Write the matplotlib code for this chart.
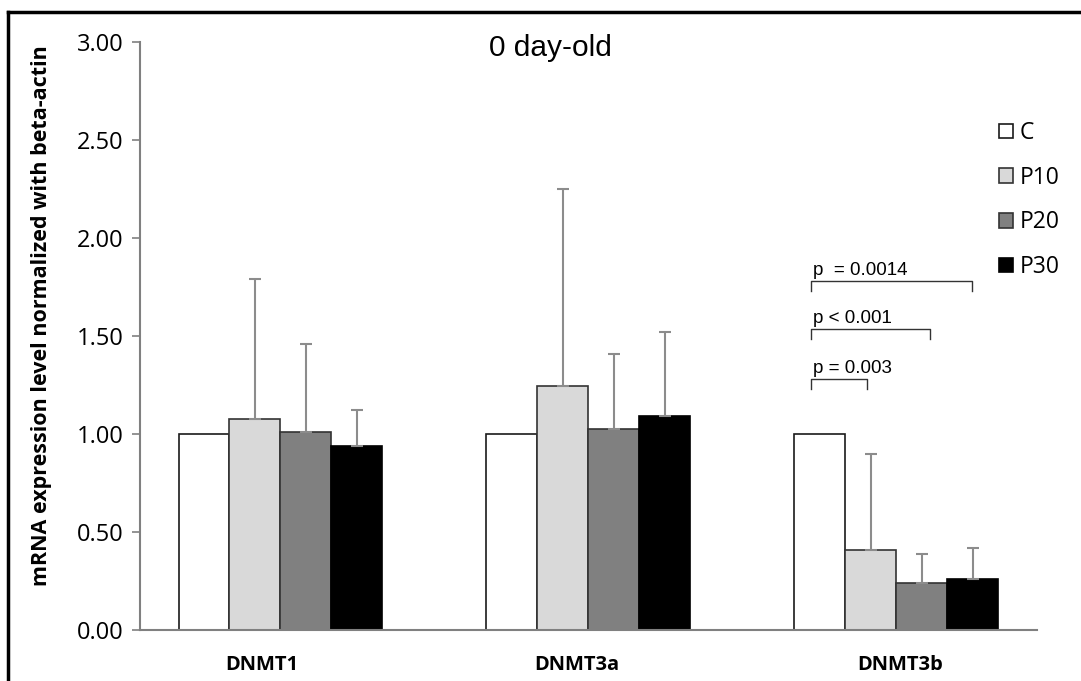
import numpy as np
import matplotlib.pyplot as plt
from matplotlib.lines import Line2D

genes = ['DNMT1', 'DNMT3a', 'DNMT3b']
groups = ['C', 'P10', 'P20', 'P30']

# mean relative expression per group (rows = group, cols = gene)
C_mean = [1.00, 1.00, 1.00]
P10_mean = [1.075, 1.245, 0.406]
P20_mean = [1.012, 1.025, 0.240]
P30_mean = [0.940, 1.093, 0.260]

# upper error (SD)
C_sd = [0.0, 0.0, 0.0]
P10_sd = [0.715, 1.005, 0.494]
P20_sd = [0.448, 0.385, 0.150]
P30_sd = [0.180, 0.427, 0.160]

fills = ['#ffffff', '#d9d9d9', '#808080', '#000000']
edges = ['#1a1a1a', '#333333', '#333333', '#000000']

# significance brackets for DNMT3b: (x start, x end, y, label)
brackets = [
    (1.724, 2.247, 1.782, 'p  = 0.0014'),
    (1.724, 2.110, 1.536, 'p < 0.001'),
    (1.724, 1.906, 1.281, 'p = 0.003'),
]

fig = plt.figure(figsize=(10.81, 6.81), dpi=100)
ax = fig.add_axes([140 / 1081, 1 - 630 / 681, 897 / 1081, 588 / 681])

x = np.arange(len(genes))
w = 0.1657
means = [C_mean, P10_mean, P20_mean, P30_mean]
sds = [C_sd, P10_sd, P20_sd, P30_sd]
handles = []
for i, g in enumerate(groups):
    pos = x + (i - 1.5) * w
    b = ax.bar(pos, means[i], width=w, color=fills[i], edgecolor=edges[i],
               linewidth=1.2, label=g, zorder=2)
    handles.append(b)
    if i > 0:
        sd = np.array(sds[i])
        ax.errorbar(pos, means[i], yerr=[np.zeros_like(sd), sd], fmt='none',
                    ecolor='#8c8c8c', elinewidth=1.5, capsize=4, capthick=1.5,
                    zorder=3)

ax.set_xlim(-0.4565, 2.458)
ax.set_ylim(0, 3)
ax.set_yticks(np.arange(0, 3.01, 0.5))
ax.set_yticklabels(['%.2f' % v for v in np.arange(0, 3.01, 0.5)],
                   fontfamily='Open Sans', fontsize=17)
# category labels sit slightly off the group centres in the original
ax.set_xticks(x + np.array([-0.06, -0.037, 0.013]))
ax.set_xticklabels(genes, fontfamily='Open Sans', fontweight='bold', fontsize=14.5)
ax.tick_params(axis='x', length=0, pad=18)
ax.tick_params(axis='y', length=6, width=1.2, color='#808080', pad=6)

for s in ['top', 'right']:
    ax.spines[s].set_visible(False)
for s in ['left', 'bottom']:
    ax.spines[s].set_color('#808080')
    ax.spines[s].set_linewidth(1.5)

ax.set_ylabel('mRNA expression level normalized with beta-actin',
              fontfamily='Open Sans', fontweight='bold', fontsize=15.5)
ax.yaxis.set_label_coords(-0.098, 0.534)

ax.text(0.876, 2.969, '0 day-old', fontfamily='Liberation Sans', fontsize=21.5,
        ha='center', va='center')

for x0, x1, y, lab in brackets:
    ax.plot([x0, x0, x1, x1], [y - 0.05, y, y, y - 0.05], color='#333333',
            linewidth=1, zorder=4)
    ax.text(x0 + 0.007, y + 0.03, lab, fontfamily='Liberation Sans',
            fontsize=13.5, ha='left', va='baseline')

fig.legend(handles=handles, labels=groups, loc='upper left',
           bbox_to_anchor=(990 / 1081, 1 - 112 / 681), frameon=False,
           prop={'family': 'Open Sans', 'size': 16.5},
           handlelength=0.6, handleheight=0.6, handletextpad=0.3,
           labelspacing=0.9, borderaxespad=0)

# outer frame (top and left edges visible)
fig.add_artist(Line2D([8 / 1081, 1.0], [1 - 12 / 681, 1 - 12 / 681],
                      color='black', linewidth=2.5, transform=fig.transFigure))
fig.add_artist(Line2D([8 / 1081, 8 / 1081], [0.0, 1 - 12 / 681],
                      color='black', linewidth=2.5, transform=fig.transFigure))

fig.savefig('out.png', dpi=100)
